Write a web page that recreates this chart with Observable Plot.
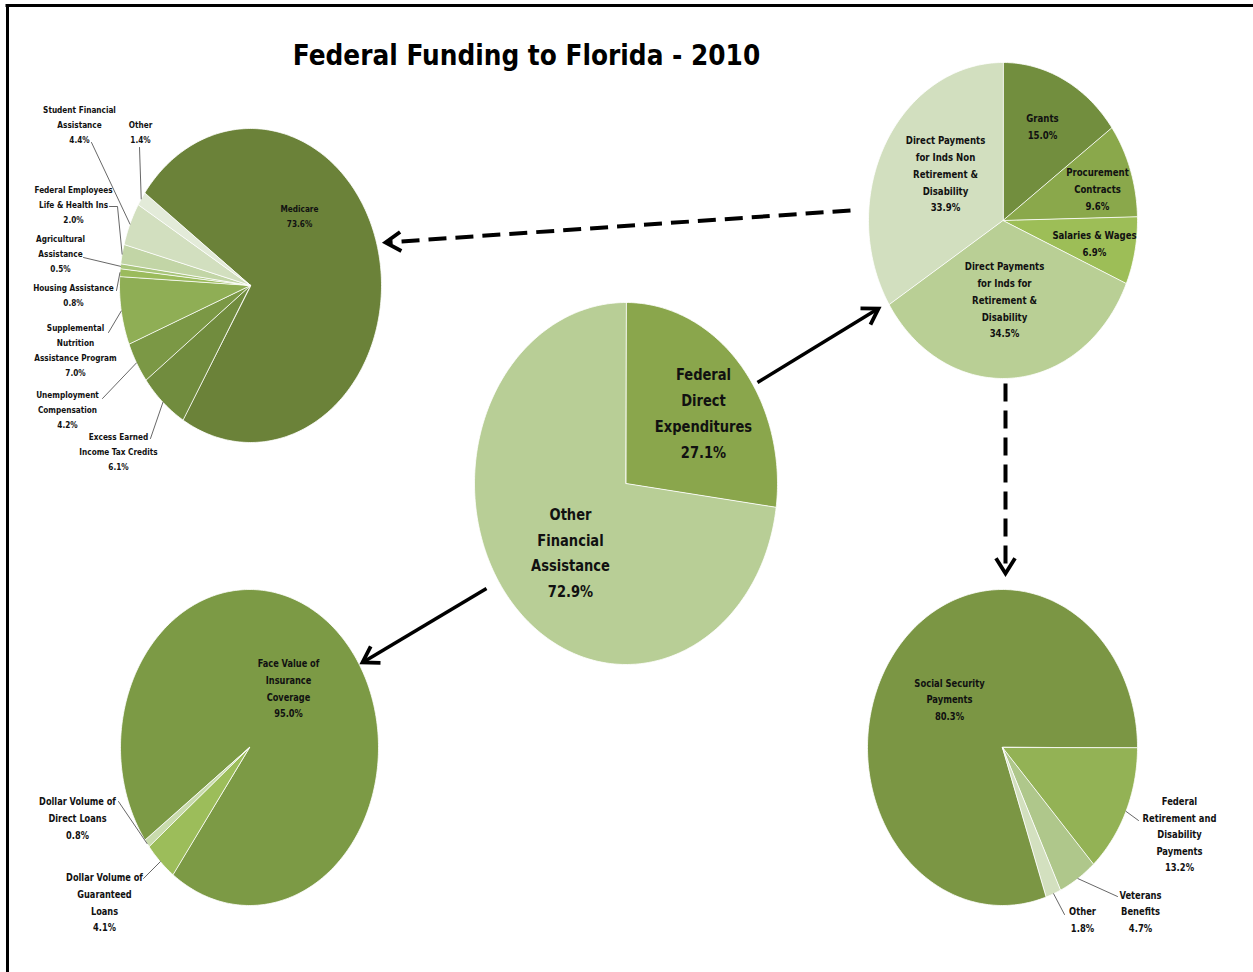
<!DOCTYPE html>
<html><head><meta charset="utf-8">
<script src="https://cdn.jsdelivr.net/npm/d3@7"></script>
<script src="https://cdn.jsdelivr.net/npm/@observablehq/plot@0.6"></script>
<style>
body{margin:0;background:#fff;}
#chart svg{display:block;}
</style></head><body><div id="chart"></div>
<script>
// ---------------- DATA ----------------
const chartTitle = "Federal Funding to Florida - 2010";

const overviewCategories = ["Federal\nDirect\nExpenditures", "Other\nFinancial\nAssistance"];
const overviewShares = [27.1, 72.9];

const directCategories = ["Grants", "Procurement\nContracts", "Salaries & Wages",
  "Direct Payments\nfor Inds for\nRetirement &\nDisability",
  "Direct Payments\nfor Inds Non\nRetirement &\nDisability"];
const directShares = [15.0, 9.6, 6.9, 34.5, 33.9];

const assistanceCategories = ["Medicare", "Excess Earned\nIncome Tax Credits", "Unemployment\nCompensation",
  "Supplemental\nNutrition\nAssistance Program", "Housing Assistance", "Agricultural\nAssistance",
  "Federal Employees\nLife & Health Ins", "Student Financial\nAssistance", "Other"];
const assistanceShares = [73.6, 6.1, 4.2, 7.0, 0.8, 0.5, 2.0, 4.4, 1.4];

const insuranceCategories = ["Face Value of\nInsurance\nCoverage", "Dollar Volume of\nGuaranteed\nLoans", "Dollar Volume of\nDirect Loans"];
const insuranceShares = [95.0, 4.1, 0.8];

const retirementCategories = ["Social Security\nPayments", "Federal\nRetirement and\nDisability\nPayments", "Veterans\nBenefits", "Other"];
const retirementShares = [80.3, 13.2, 4.7, 1.8];

// ---------------- STYLE / LAYOUT ----------------
const W = 1253, H = 972;
const FONT = "'Liberation Sans Narrow','Arial Narrow','DejaVu Sans Condensed',sans-serif";

const overviewColors = ["#8aa64c", "#b8ce96"];
const directColors = ["#728e3e", "#8aa84b", "#9dbe57", "#b9cf95", "#d2dfbf"];
const assistanceColors = ["#6b8239", "#718c3e", "#7b9845", "#8fae55", "#9bbb5c", "#a8c57a", "#c2d5a6", "#d2dfbf", "#e3ebd9"];
const insuranceColors = ["#7c9a45", "#9cbd5a", "#c9dbad"];
const retirementColors = ["#7b9644", "#93b255", "#afc78b", "#d3e0bf"];

const overviewLabels = [{x:703, y:413.5}, {x:570, y:553}];
const directLabels = [{x:1042, y:126.5}, {x:1097, y:189}, {x:1094, y:244}, {x:1004, y:300}, {x:945, y:174}];
const assistanceLabels = [
  {x:299, y:216.5},
  {x:118, y:452, lead:[150,438]},
  {x:67, y:410, lead:[102,398]},
  {x:75, y:350.5, lead:[108,332]},
  {x:73, y:295.5, lead:[116,290]},
  {x:60, y:254, lead:[83,257]},
  {x:73, y:205, lead:[109,206], elbow:[117,206]},
  {x:79, y:125, lead:[91,142]},
  {x:140, y:132.5, lead:[139,147]}
];
const insuranceLabels = [{x:288, y:688.5}, {x:104, y:902.5, lead:[143,878]}, {x:77, y:818, lead:[118,801]}];
const retirementLabels = [{x:949, y:699.5}, {x:1179, y:834.5, lead:[1138,820]}, {x:1140, y:911.5, lead:[1117,896]}, {x:1082, y:919.5, lead:[1064,914]}];

const pies = [
  {key:"overview", cats:overviewCategories, shares:overviewShares, colors:overviewColors, labels:overviewLabels,
   geom:{cx:625.5, cy:483, rx:151.5, ry:181, start:0}, fontSize:16.5, lineHeight:1.56, squeeze:0.88},
  {key:"direct", cats:directCategories, shares:directShares, colors:directColors, labels:directLabels,
   geom:{cx:1002.5, cy:220, rx:134.5, ry:158, start:0}, fontSize:10.5, lineHeight:1.6, squeeze:0.91},
  {key:"assistance", cats:assistanceCategories, shares:assistanceShares, colors:assistanceColors, labels:assistanceLabels,
   geom:{cx:250, cy:285, rx:131, ry:157, start:306}, fontSize:9.5, lineHeight:1.58, squeeze:0.86},
  {key:"insurance", cats:insuranceCategories, shares:insuranceShares, colors:insuranceColors, labels:insuranceLabels,
   geom:{cx:249, cy:747, rx:129, ry:158, start:234}, fontSize:10.5, lineHeight:1.6, squeeze:0.87},
  {key:"retirement", cats:retirementCategories, shares:retirementShares, colors:retirementColors, labels:retirementLabels,
   geom:{cx:1002, cy:747, rx:135, ry:158, start:161}, fontSize:10.5, lineHeight:1.58, squeeze:0.89}
];

const arrows = [
  {x1:850, y1:210, x2:385, y2:242, dashed:true},
  {x1:757, y1:382, x2:878, y2:308, dashed:false},
  {x1:1005, y1:383, x2:1005, y2:573, dashed:true},
  {x1:486, y1:588, x2:362, y2:662, dashed:false}
];

// ---------------- BUILD ----------------
const wedgePts = [], textRows = [], leaderPts = [];
for (const p of pies) {
  const g = p.geom, total = d3.sum(p.shares);
  let a = g.start;
  p.shares.forEach((v, i) => {
    const span = v / total * 360, a0 = a, a1 = a + span;
    const id = p.key + i;
    const n = Math.max(2, Math.ceil(span));
    wedgePts.push({id, x:g.cx, y:g.cy, fill:p.colors[i]});
    for (let k = 0; k <= n; k++) {
      const t = (a0 + (a1 - a0) * k / n) * Math.PI / 180;
      wedgePts.push({id, x:g.cx + g.rx * Math.sin(t), y:g.cy - g.ry * Math.cos(t), fill:p.colors[i]});
    }
    const lab = p.labels[i];
    textRows.push({pie:p.key, x:lab.x, y:lab.y - 0.2 * p.fontSize, text:p.cats[i] + "\n" + v.toFixed(1) + "%"});
    if (lab.lead) {
      const tm = (a0 + a1) / 2 * Math.PI / 180;
      const edge = {x:g.cx + g.rx * Math.sin(tm), y:g.cy - g.ry * Math.cos(tm)};
      leaderPts.push({id, x:lab.lead[0], y:lab.lead[1]});
      if (lab.elbow) leaderPts.push({id, x:lab.elbow[0], y:lab.elbow[1]});
      leaderPts.push({id, x:edge.x, y:edge.y});
    }
    a = a1;
  });
}

const headPts = [], shafts = [];
arrows.forEach((r, i) => {
  const dir = Math.atan2(r.y2 - r.y1, r.x2 - r.x1);
  const L = 18, half = 32 * Math.PI / 180;
  headPts.push({id:i, x:r.x2 - L * Math.cos(dir - half), y:r.y2 - L * Math.sin(dir - half)});
  headPts.push({id:i, x:r.x2, y:r.y2});
  headPts.push({id:i, x:r.x2 - L * Math.cos(dir + half), y:r.y2 - L * Math.sin(dir + half)});
  shafts.push({x1:r.x1, y1:r.y1, x2:r.x2 - 2 * Math.cos(dir), y2:r.y2 - 2 * Math.sin(dir), dashed:r.dashed});
});

const textMarks = pies.map(p => Plot.text(textRows.filter(d => d.pie === p.key), {
  x:"x", y:"y", text:"text", fontSize:p.fontSize, lineHeight:p.lineHeight,
  fontWeight:"bold", fill:"#111", textAnchor:"middle", lineAnchor:"middle", className:"lbl-" + p.key
}));

const chart = Plot.plot({
  width: W, height: H, margin: 0,
  x: {domain:[0, W], range:[0, W], axis:null},
  y: {domain:[0, H], range:[0, H], axis:null},
  color: {type:"identity"},
  style: {fontFamily: FONT, background:"#fff", overflow:"visible"},
  marks: [
    Plot.ruleX([7], {y1:5, y2:H, stroke:"#000", strokeWidth:3}),
    Plot.ruleY([5], {x1:5.5, x2:W, stroke:"#000", strokeWidth:3}),
    Plot.line(wedgePts, {x:"x", y:"y", z:"id", fill:"fill", stroke:"#fff", strokeWidth:0.8,
      curve:"linear-closed", strokeLinejoin:"round"}),
    Plot.line(leaderPts, {x:"x", y:"y", z:"id", stroke:"#404040", strokeWidth:0.8, curve:"linear"}),
    Plot.link(shafts.filter(d => d.dashed), {x1:"x1", y1:"y1", x2:"x2", y2:"y2", stroke:"#000",
      strokeWidth:4, strokeDasharray:"18,9", strokeLinecap:"butt"}),
    Plot.link(shafts.filter(d => !d.dashed), {x1:"x1", y1:"y1", x2:"x2", y2:"y2", stroke:"#000",
      strokeWidth:3.5, strokeLinecap:"butt"}),
    Plot.line(headPts, {x:"x", y:"y", z:"id", stroke:"#000", strokeWidth:3.8,
      strokeLinejoin:"miter", strokeMiterlimit:6, strokeLinecap:"butt"}),
    ...textMarks,
    Plot.text([chartTitle], {x:() => 526, y:() => 55, text:d => d, fontSize:28.5, fontWeight:"bold",
      fill:"#000", textAnchor:"middle", lineAnchor:"middle", className:"lbl-title"})
  ]
});
// narrow the label glyphs horizontally to match the condensed original typeface
const squeezes = Object.fromEntries(pies.map(p => [p.key, p.squeeze]));
squeezes.title = 0.97;
for (const [k, s] of Object.entries(squeezes)) {
  d3.select(chart).selectAll(`g.lbl-${k} text`).each(function() {
    const t = this.getAttribute("transform") || "";
    this.setAttribute("transform", `${t} scale(${s},1)`);
  });
}
document.getElementById("chart").append(chart);
</script>
</body></html>
